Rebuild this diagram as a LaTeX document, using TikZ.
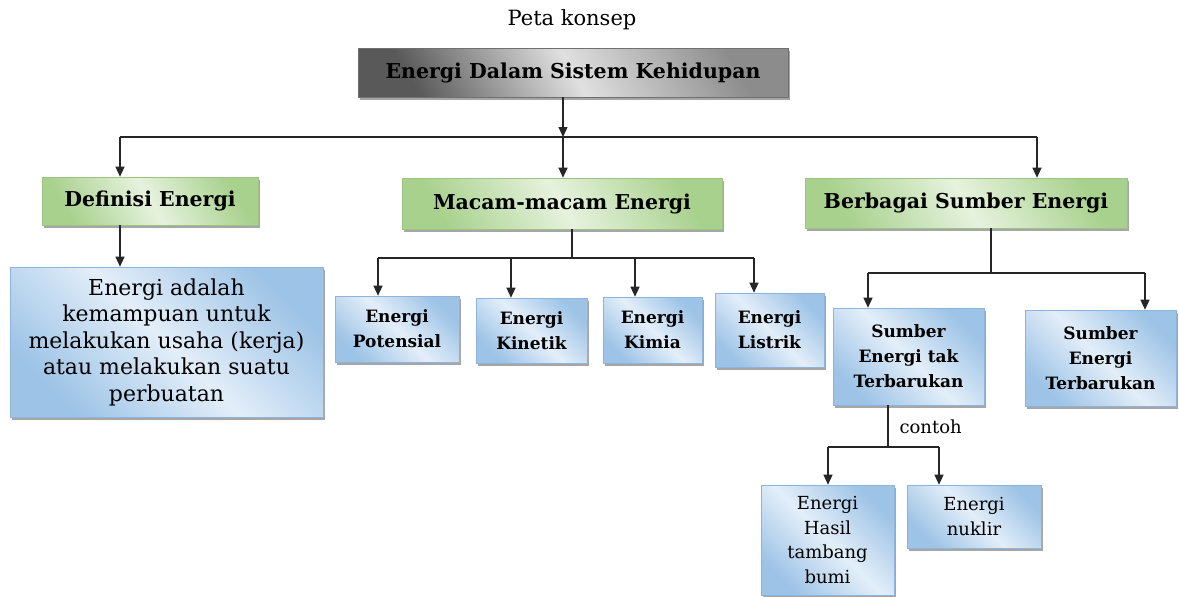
\documentclass[tikz,border=0pt]{standalone}
\usepackage{fontspec}
\setmainfont{DejaVu Serif}
\usetikzlibrary{arrows.meta,shadows}
\definecolor{bluD}{HTML}{9DC3E6}
\definecolor{bluL}{HTML}{E3EEF9}
\definecolor{bluB}{HTML}{8FB4DC}
\definecolor{grnD}{HTML}{A9D18E}
\definecolor{grnL}{HTML}{E6F2DE}
\definecolor{grnB}{HTML}{9CC383}
\definecolor{gryD}{HTML}{595959}
\definecolor{gryM}{HTML}{8C8C8C}
\definecolor{gryL}{HTML}{E0E0E0}
\definecolor{gryB}{HTML}{707070}
\begin{document}
\begin{tikzpicture}[x=1pt,y=-1pt,
  boxbase/.style={rectangle, inner sep=0pt, align=center, text=black, line width=0.6pt,
    drop shadow={shadow xshift=2pt, shadow yshift=-2.5pt, fill=black, opacity=0.35}},
  graybox/.style={boxbase, draw=gryB, top color=gryM, bottom color=gryD, middle color=gryL,
    shading angle=-60, font=\fontsize{20.5}{24}\selectfont\bfseries},
  greenbox/.style={boxbase, draw=grnB, top color=grnD, bottom color=grnD, middle color=grnL,
    shading angle=-60, font=\fontsize{20.5}{24}\selectfont\bfseries},
  bluebox/.style={boxbase, draw=bluB, top color=bluD, bottom color=bluD, middle color=bluL,
    shading angle=-45},
  smallbold/.style={font=\fontsize{17}{25}\selectfont\bfseries},
  midreg/.style={font=\fontsize{18}{24.5}\selectfont},
  conn/.style={line width=1.3pt, draw=black!85},
  arr/.style={conn, -{Triangle[length=10pt,width=9pt]}}
]
\useasboundingbox (0,0) rectangle (1179,597);

% title
\node[font=\fontsize{21}{24}\selectfont] (title) at (572,20) {Peta konsep};

% top
\node[graybox, minimum width=430pt, minimum height=49pt] (top) at (573,72.5) {Energi Dalam Sistem Kehidupan};

% green level
\node[greenbox, minimum width=216pt, minimum height=48pt] (def) at (150,201) {Definisi Energi};
\node[greenbox, minimum width=320pt, minimum height=51pt] (mac) at (562,203.5) {Macam-macam Energi};
\node[greenbox, minimum width=322pt, minimum height=50pt] (ber) at (966,203) {Berbagai Sumber Energi};

% definition
\node[bluebox, minimum width=313pt, minimum height=150pt, font=\fontsize{22}{26.5}\selectfont] (defn) at (166.5,342)
  {Energi adalah\\kemampuan untuk\\melakukan usaha (kerja)\\atau melakukan suatu\\perbuatan};

% kinds of energy
\node[bluebox, smallbold, minimum width=124pt, minimum height=66pt] (pot) at (397,329) {Energi\\Potensial};
\node[bluebox, smallbold, minimum width=111pt, minimum height=65pt] (kin) at (531.5,330.5) {Energi\\Kinetik};
\node[bluebox, smallbold, minimum width=99pt, minimum height=66pt] (kim) at (652.5,330) {Energi\\Kimia};
\node[bluebox, smallbold, minimum width=109pt, minimum height=74pt] (lis) at (769.5,330) {Energi\\Listrik};

% sources
\node[bluebox, smallbold, minimum width=151pt, minimum height=97pt] (tak) at (908.5,356.5) {Sumber\\Energi tak\\Terbarukan};
\node[bluebox, smallbold, minimum width=151pt, minimum height=96pt] (ter) at (1100.5,358) {Sumber\\Energi\\Terbarukan};

% examples
\node[bluebox, midreg, minimum width=133pt, minimum height=110pt] (has) at (827.5,540) {Energi\\Hasil\\tambang\\bumi};
\node[bluebox, midreg, minimum width=134pt, minimum height=63pt] (nuk) at (974,516.5) {Energi\\nuklir};

% junction coordinates
\coordinate (j1) at (563,137);
\coordinate (j1L) at (120,137);
\coordinate (j1R) at (1037,137);
\coordinate (j2) at (572,258);
\coordinate (j2a) at (378,258);
\coordinate (j2b) at (511,258);
\coordinate (j2c) at (635,258);
\coordinate (j2d) at (754,258);
\coordinate (j3) at (991,273);
\coordinate (j3L) at (868,273);
\coordinate (j3R) at (1145,273);
\coordinate (j4) at (888,447);
\coordinate (j4L) at (828,447);
\coordinate (j4R) at (939,447);

% connectors level 1
\draw[arr] (top.south -| j1) -- (j1);
\draw[conn] (j1L) -- (j1R);
\draw[arr] (j1L) -- (def.north -| j1L);
\draw[arr] (j1) -- (mac.north -| j1);
\draw[arr] (j1R) -- (ber.north -| j1R);

% definition
\draw[arr] (def.south -| j1L) -- (defn.north -| j1L);

% kinds
\draw[conn] (mac.south -| j2) -- (j2);
\draw[conn] (j2a) -- (j2d);
\draw[arr] (j2a) -- (pot.north -| j2a);
\draw[arr] (j2b) -- (kin.north -| j2b);
\draw[arr] (j2c) -- (kim.north -| j2c);
\draw[arr] (j2d) -- (lis.north -| j2d);

% sources
\draw[conn] (ber.south -| j3) -- (j3);
\draw[conn] (j3L) -- (j3R);
\draw[arr] (j3L) -- (tak.north -| j3L);
\draw[arr] (j3R) -- (ter.north -| j3R);

% examples
\draw[conn] (tak.south -| j4) -- (j4);
\draw[conn] (j4L) -- (j4R);
\draw[arr] (j4L) -- (has.north -| j4L);
\draw[arr] (j4R) -- (nuk.north -| j4R);
\node[font=\fontsize{18}{20}\selectfont, anchor=west] (contoh) at (896,427) {contoh};
\end{tikzpicture}
\end{document}
